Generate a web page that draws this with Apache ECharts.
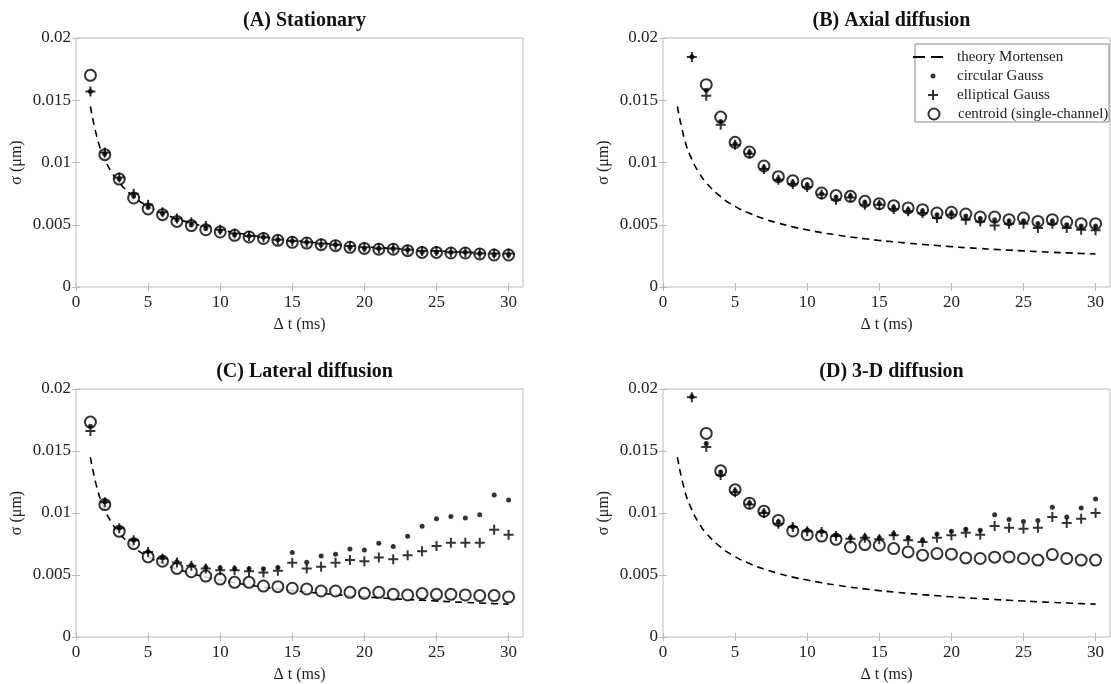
<!DOCTYPE html>
<html><head><meta charset="utf-8">
<script src="https://cdn.jsdelivr.net/npm/echarts@6/dist/echarts.min.js"></script>
<style>html,body{margin:0;padding:0;background:#fff}#c{width:1111px;height:684px}</style>
</head><body><div id="c"></div>
<script>
// ---- data ----
const dt = [1,2,3,4,5,6,7,8,9,10,11,12,13,14,15,16,17,18,19,20,21,22,23,24,25,26,27,28,29,30];
const theoryT = [1,1.5,2,2.5,3,4,5,6,7,8,9,10,11,12,13,14,15,16,17,18,19,20,21,22,23,24,25,26,27,28,29,30];
const theory = [0.0145,0.01184,0.01025,0.00917,0.00837,0.00725,0.00648,0.00592,0.00548,0.00513,0.00483,0.00459,0.00437,0.00419,0.00402,0.00388,0.00374,0.00363,0.00352,0.00342,0.00333,0.00324,0.00316,0.00309,0.00302,0.00296,0.0029,0.00284,0.00279,0.00274,0.00269,0.00265];
const panelTitles = ['(A) Stationary','(B) Axial diffusion','(C) Lateral diffusion','(D) 3-D diffusion'];
const xTicks = [0,5,10,15,20,25,30];
const yTicks = [0,0.005,0.01,0.015,0.02];
const yTickLabels = ['0','0.005','0.01','0.015','0.02'];
const seriesNames = ['theory Mortensen','circular Gauss','elliptical Gauss','centroid (single-channel)'];

const aCircular = [0.0157,0.0107,0.0087,0.0073,0.0064,0.0059,0.0054,0.0050,0.0047,0.0045,0.0042,0.0041,0.0040,0.0038,0.0037,0.0036,0.0034,0.0034,0.0032,0.0031,0.0031,0.0031,0.0030,0.0028,0.0028,0.0028,0.0028,0.0027,0.0026,0.0026];
const aElliptical = [0.0157,0.0108,0.0088,0.0075,0.0066,0.0060,0.0055,0.0052,0.0049,0.0046,0.0043,0.0041,0.0040,0.0038,0.0037,0.0036,0.0035,0.0034,0.0033,0.0032,0.0031,0.0031,0.0030,0.0029,0.0029,0.0028,0.0028,0.0027,0.0027,0.0027];
const aCentroid = [0.0170,0.01063,0.00867,0.00715,0.00627,0.00581,0.00527,0.00493,0.0046,0.00442,0.00415,0.00402,0.0039,0.00375,0.00359,0.00353,0.0034,0.00332,0.00319,0.0031,0.00303,0.00303,0.00292,0.00278,0.00278,0.00273,0.00273,0.00265,0.00257,0.00257];

const bCircular = [null,0.0185,0.0158,0.0133,0.0115,0.0108,0.0096,0.0087,0.0084,0.0082,0.0075,0.0072,0.0073,0.0068,0.0067,0.0064,0.0062,0.0061,0.0058,0.0059,0.0057,0.0055,0.0054,0.0053,0.0053,0.0051,0.0053,0.0050,0.0049,0.0049];
const bElliptical = [null,0.01847,0.01537,0.01304,0.01143,0.0107,0.00948,0.00862,0.00827,0.00803,0.00742,0.00701,0.00718,0.00661,0.00661,0.00627,0.00608,0.00594,0.00554,0.00581,0.00541,0.00527,0.00493,0.00509,0.00509,0.00474,0.00509,0.00474,0.0046,0.00455];
const bCentroid = [null,null,0.01625,0.01365,0.01162,0.01084,0.00972,0.00886,0.00854,0.0083,0.00755,0.00734,0.00728,0.00688,0.00669,0.00653,0.00635,0.00621,0.00594,0.006,0.00586,0.00562,0.00562,0.00541,0.00554,0.00527,0.00541,0.00522,0.00509,0.00509];

const cCircular = [0.0170,0.0109,0.0088,0.0078,0.0069,0.0064,0.00606,0.0058,0.00563,0.00558,0.00553,0.0055,0.0055,0.0056,0.00681,0.00603,0.00654,0.00668,0.0071,0.00702,0.00756,0.00729,0.00812,0.00894,0.00953,0.00972,0.00959,0.00985,0.01146,0.01105];
const cElliptical = [0.01661,0.01087,0.00878,0.0078,0.00686,0.00633,0.00601,0.00574,0.00553,0.00539,0.00539,0.00531,0.00521,0.00534,0.00598,0.00553,0.00566,0.00598,0.0062,0.00611,0.00641,0.00627,0.0066,0.00692,0.00734,0.00761,0.00761,0.00761,0.00865,0.00825];
const cCentroid = [0.01733,0.01068,0.00852,0.00753,0.00646,0.00611,0.00553,0.00526,0.00491,0.00467,0.00441,0.00441,0.00411,0.00406,0.00393,0.00387,0.00371,0.00371,0.0036,0.00352,0.0036,0.00344,0.00339,0.0035,0.00344,0.00344,0.00339,0.00334,0.00334,0.00323];

const dCircular = [null,0.0194,0.0156,0.0133,0.0118,0.0108,0.0101,0.0093,0.0089,0.0086,0.0085,0.0082,0.0080,0.0081,0.0080,0.00833,0.0080,0.0078,0.0083,0.00852,0.00868,0.0086,0.00985,0.00948,0.00932,0.0094,0.01047,0.00967,0.01041,0.01113];
const dElliptical = [null,0.01933,0.01533,0.01306,0.01167,0.01068,0.00999,0.00913,0.00887,0.00852,0.00846,0.00814,0.00793,0.00801,0.00788,0.0082,0.0078,0.00766,0.00801,0.0082,0.00841,0.00825,0.00895,0.00881,0.00873,0.00881,0.00967,0.00919,0.00953,0.01001];
const dCentroid = [null,null,0.01642,0.0134,0.01188,0.01079,0.01015,0.0094,0.00855,0.00825,0.00814,0.00788,0.00726,0.00745,0.0074,0.00713,0.00686,0.0066,0.00673,0.00668,0.00638,0.00633,0.00644,0.00646,0.00633,0.0062,0.00665,0.00633,0.0062,0.0062];

const panels = [
  {circ:aCircular, ell:aElliptical, cen:aCentroid},
  {circ:bCircular, ell:bElliptical, cen:bCentroid},
  {circ:cCircular, ell:cElliptical, cen:cCentroid},
  {circ:dCircular, ell:dElliptical, cen:dCentroid}
];

// ---- layout ----
const FONT = '"Liberation Serif", "DejaVu Serif", serif';
const grids = [
  {left:76, top:38, width:447, height:249},
  {left:663, top:38, width:447, height:249},
  {left:76, top:389, width:447, height:250},
  {left:663, top:389, width:447, height:250}
];
const AX = '#bbbbbb';
const INK = '#000';
const PLUS = 'path://M4,0H6V4H10V6H6V10H4V6H0V4H4Z';
const DASH_ICON = 'path://M0,0H12V2H0Z M18,0H30V2H18Z';

const pair = (xs, ys) => xs.map((x,i)=>[x, ys[i]]);

const option = {
  animation:false,
  backgroundColor:'#fff',
  textStyle:{fontFamily:FONT},
  title: panelTitles.map((t,i)=>({
    text:t, left:grids[i].left + grids[i].width/2, top:grids[i].top - 32, textAlign:'center',
    textStyle:{fontFamily:FONT, fontSize:20, fontWeight:'bold', color:'#111'}
  })),
  grid: grids.map(g=>Object.assign({show:true, borderColor:AX, borderWidth:1, containLabel:false}, g)),
  xAxis: [], yAxis: [], series: [],
  legend: [],
  graphic: [{type:'rect', shape:{x:915, y:44, width:194, height:78}, style:{fill:'#fff', stroke:'#888', lineWidth:1}, z:90}]
};

grids.forEach((g,i)=>{
  option.xAxis.push({
    type:'value', gridIndex:i, min:0, max:31, position:'bottom',
    name:'\u0394 t (ms)', nameLocation:'middle', nameGap:30,
    nameTextStyle:{fontFamily:FONT, fontSize:16, color:'#222'},
    axisLine:{show:false}, splitLine:{show:false},
    axisTick:{show:true, inside:true, length:4, customValues:xTicks, lineStyle:{color:AX}},
    axisLabel:{customValues:xTicks, fontFamily:FONT, fontSize:17, color:'#222', margin:7}
  });
  option.xAxis.push({
    type:'value', gridIndex:i, min:0, max:31, position:'top',
    axisLine:{show:false}, splitLine:{show:false},
    axisTick:{show:true, inside:true, length:4, customValues:xTicks, lineStyle:{color:AX}},
    axisLabel:{show:false}
  });
  option.yAxis.push({
    type:'value', gridIndex:i, min:0, max:0.02, interval:0.005, position:'left',
    name:'\u03c3 (\u03bcm)', nameLocation:'middle', nameGap:51, nameRotate:90,
    nameTextStyle:{fontFamily:FONT, fontSize:16, color:'#222'},
    axisLine:{show:false}, splitLine:{show:false},
    axisTick:{show:true, inside:true, length:4, lineStyle:{color:AX}},
    axisLabel:{fontFamily:FONT, fontSize:17, color:'#222', margin:5,
      formatter:(v)=>{const k=yTicks.findIndex(t=>Math.abs(t-v)<1e-9); return k>=0?yTickLabels[k]:'';}}
  });
  option.yAxis.push({
    type:'value', gridIndex:i, min:0, max:0.02, interval:0.005, position:'right',
    axisLine:{show:false}, splitLine:{show:false},
    axisTick:{show:true, inside:true, length:4, lineStyle:{color:AX}},
    axisLabel:{show:false}
  });
  const xi = i*2, yi = i*2;
  const p = panels[i];
  option.series.push({
    name:seriesNames[0], type:'line', xAxisIndex:xi, yAxisIndex:yi,
    data:pair(theoryT, theory), smooth:true, symbol:'none',
    lineStyle:{color:INK, width:1.6, type:[7,5]}, itemStyle:{color:INK}, z:2
  });
  option.series.push({
    name:seriesNames[1], type:'scatter', xAxisIndex:xi, yAxisIndex:yi,
    data:pair(dt, p.circ), symbol:'circle', symbolSize:5,
    itemStyle:{color:INK}, z:4
  });
  option.series.push({
    name:seriesNames[2], type:'scatter', xAxisIndex:xi, yAxisIndex:yi,
    data:pair(dt, p.ell), symbol:PLUS, symbolSize:10,
    itemStyle:{color:INK}, z:4
  });
  option.series.push({
    name:seriesNames[3], type:'scatter', xAxisIndex:xi, yAxisIndex:yi,
    data:pair(dt, p.cen), symbol:'emptyCircle', symbolSize:11,
    itemStyle:{color:INK, borderColor:INK, borderWidth:2.2}, z:3
  });
});

// legend rows (one per entry so that each icon keeps its own size)
const legendRows = [
  {name:seriesNames[0], icon:DASH_ICON, cy:57, left:913, w:30, h:2},
  {name:seriesNames[1], icon:'circle', cy:76, left:930.5, w:5, h:5},
  {name:seriesNames[2], icon:PLUS, cy:95, left:928, w:10, h:10},
  {name:seriesNames[3], icon:'emptyCircle', cy:114, left:927.5, w:11, h:11}
];
legendRows.forEach(r=>{
  option.legend.push({
    data:[{name:r.name, icon:r.icon}], left:r.left, top:r.cy-9, orient:'vertical', align:'left', padding:0,
    itemWidth:r.w, itemHeight:r.h, selectedMode:false, z:100,
    itemStyle:{color:INK, borderColor:INK, borderWidth: r.icon==='emptyCircle'?2:0},
    textStyle:{fontFamily:FONT, fontSize:15, color:'#222', padding:[0,0,0,957-(r.left+r.w+5)], lineHeight:18}
  });
});

const chart = echarts.init(document.getElementById('c'), null, {renderer:'canvas'});
chart.setOption(option);
</script>
</body></html>
